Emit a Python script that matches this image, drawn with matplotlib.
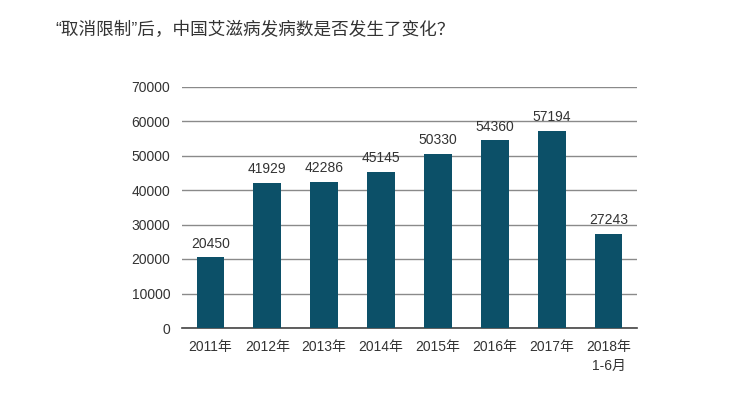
import matplotlib.pyplot as plt

plt.rcParams['font.family'] = ['Liberation Sans', 'Noto Sans CJK SC', 'DejaVu Sans']

# 数据
years = ['2011年', '2012年', '2013年', '2014年', '2015年', '2016年', '2017年', '2018年\n1-6月']
cases = [20450, 41929, 42286, 45145, 50330, 54360, 57194, 27243]
yticks = [0, 10000, 20000, 30000, 40000, 50000, 60000, 70000]

fig = plt.figure(figsize=(7.33, 4.04), dpi=100)
fig.text(55 / 733, 1 - 30 / 404, '“取消限制”后，中国艾滋病发病数是否发生了变化？',
         fontsize=12.7, color='#333333', va='center', ha='left')

ax = fig.add_axes([182 / 733, 76 / 404, 455 / 733, (328 - 86.5) / 404])
x = range(len(years))
ax.bar(x, cases, width=0.49, color='#0c5068', zorder=3)

for i, v in zip(x, cases):
    ax.annotate(str(v), (i, v), xytext=(0, 5), textcoords='offset points',
                ha='center', va='bottom', fontsize=10, color='#333333')

ax.set_xlim(-0.5, len(years) - 0.5)
ax.set_ylim(0, 70000)
ax.set_yticks(yticks)
ax.set_yticklabels([str(t) for t in yticks])
ax.set_xticks(list(x))
ax.set_xticklabels(years, va='top', linespacing=1.4)

ax.grid(axis='y', color='#8a8a8a', linewidth=1, zorder=0)
for s in ['top', 'right', 'left']:
    ax.spines[s].set_visible(False)
ax.spines['bottom'].set_color('#444444')
ax.spines['bottom'].set_linewidth(1.2)
ax.tick_params(axis='both', length=0, labelsize=10, colors='#333333')
ax.tick_params(axis='y', pad=8.5)
ax.tick_params(axis='x', pad=9)

plt.savefig('out.png', dpi=100)
